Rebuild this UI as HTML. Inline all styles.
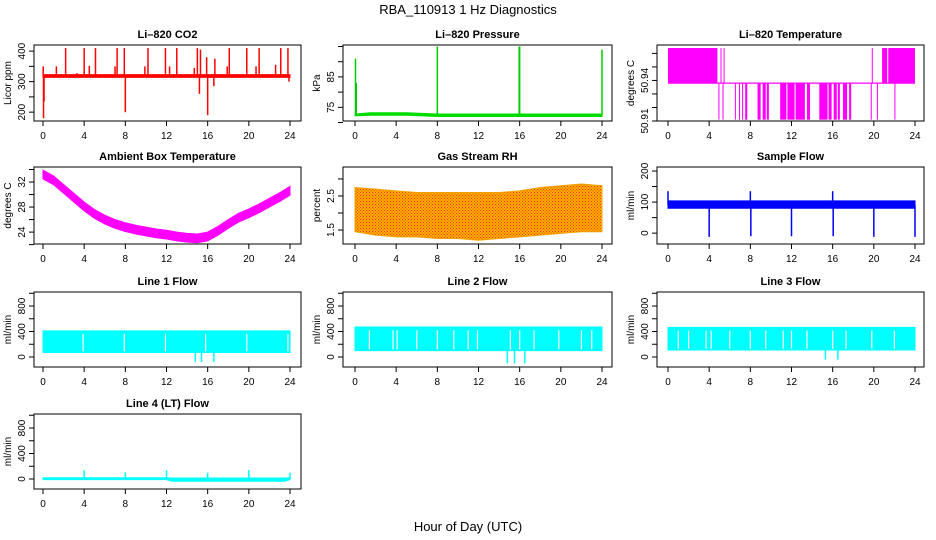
<!DOCTYPE html>
<html><head><meta charset="utf-8"><style>
html,body{margin:0;padding:0;background:#fff;}
svg{display:block;font-family:"Liberation Sans",sans-serif;}
</style></head><body>
<svg id="chart" width="936" height="540" viewBox="0 0 936 540">
<defs>
<pattern id="rhpat" width="3" height="3" patternUnits="userSpaceOnUse">
<rect width="3" height="3" fill="#f8b000"/><rect width="1" height="1" fill="#ff3000"/><rect x="1.5" y="1.5" width="1" height="1" fill="#ff3000"/>
</pattern>
</defs>
<text x="468" y="14" text-anchor="middle" font-size="13">RBA_110913  1 Hz Diagnostics</text>
<text x="468" y="531" text-anchor="middle" font-size="13">Hour of Day (UTC)</text>
</svg>
<script>
// ---- data ----
const xTicks = [0,4,8,12,16,20,24];
// CO2
const co2Band = [[0,314,323],[24,314,323]];
const co2Spikes = [[0.05,180],[0.1,235],[0.02,350],[1.3,350],[2.2,410],[3.3,328],[4.0,410],[4.5,352],[5.1,410],[7.0,350],[7.2,410],[7.9,410],[8.0,200],[9.9,350],[10.2,410],[11.9,410],[12.3,350],[13.0,410],[14.7,345],[15.0,410],[15.2,260],[15.3,405],[15.9,380],[16.0,190],[16.6,285],[16.7,375],[17.9,350],[18.1,410],[19.8,410],[20.7,350],[21.0,410],[22.6,355],[23.1,410],[23.8,410],[23.9,300]];
// Pressure
const presBand = [[0,72.2,72.8],[1.5,72.4,73.2],[5,72.4,73.2],[8,72.0,72.8],[24,72.0,72.8]];
const presSpikes = [[0.05,91],[0.12,83],[8.0,95],[16.0,95],[15.95,95],[24,94]];
// Li-820 temperature
const tempHighBlocks = [[0,4.8],[5.1,5.2],[5.4,5.45],[19.8,19.9],[20.8,21.3],[21.4,24]];
const tempLowBlocks = [[4.9,4.95],[5.3,5.35],[6.5,6.55],[6.9,7.0],[7.2,7.3],[7.5,7.7],[8.7,9.0],[9.2,9.5],[9.6,9.8],[10.9,11.5],[11.6,12.3],[12.4,13.3],[13.5,13.8],[14.7,15.5],[15.6,15.9],[16.1,16.4],[16.5,16.7],[17.0,17.4],[17.6,17.8],[19.7,19.8],[20.3,20.35],[22.0,22.05]];
const tempLevels = [50.911, 50.938, 50.964];
// Ambient box temperature (hourly centre)
const ambHours = [0,1,2,3,4,5,6,7,8,9,10,11,12,13,14,15,16,17,18,19,20,21,22,23,24];
const ambMean = [33.2,32.3,30.9,29.5,28.1,26.9,26.0,25.3,24.8,24.4,24.1,23.8,23.6,23.3,23.1,23.0,23.3,24.2,25.3,26.3,27.0,27.8,28.7,29.6,30.6];
// Gas stream RH envelope
const rhHours = [0,2,4,6,8,10,12,14,16,18,20,22,24];
const rhLow = [1.45,1.35,1.3,1.3,1.25,1.25,1.2,1.25,1.3,1.35,1.4,1.45,1.45];
const rhHigh = [2.75,2.7,2.65,2.6,2.6,2.6,2.6,2.6,2.65,2.75,2.8,2.85,2.8];
// Sample flow
const sfBand = [[0,80,104],[24,80,104]];
const sfSpikes = [[0,135],[4,-12],[8,135],[8.05,-10],[12,-10],[16,135],[16.05,-10],[20,-12],[24,-12]];
// Line flows: band [low, high]
const l1Band = [70,410]; const l1Gaps = [3.9,7.9,11.9,15.8,19.8,23.8]; const l1Dips = [[14.8,-80],[15.4,-80],[16.6,-80]];
const l2Band = [100,470]; const l2Gaps = [1.4,3.7,4.1,6.0,8.0,9.6,11.0,11.9,15.1,16.0,17.4,19.8,22.0,23.0]; const l2Dips = [[14.8,-100],[15.5,-100],[16.5,-100]];
const l3Band = [110,465]; const l3Gaps = [1.0,2.0,3.7,4.2,6.0,8.0,9.5,11.2,12.0,13.5,16.0,17.3,19.8,22.0]; const l3Dips = [[15.3,-40],[16.5,-40]];
const l4Base = [[0,-10,20],[12,-10,20],[12.5,-35,15],[23.5,-35,15],[24,-10,20]];
const l4Spikes = [[4,135],[8,105],[12,135],[16,100],[20,140],[24,100]];

// ---- layout ----
const svg = document.getElementById('chart');
const NS = 'http://www.w3.org/2000/svg';
const cols = [{l:34,r:301,x0:43,x1:290},{l:343,r:612,x0:355,x1:602},{l:657,r:924,x0:668,x1:915}];
const rows = [{t:45,b:121},{t:167,b:244},{t:292,b:367},{t:414,b:489}];
function el(tag, attrs, parent){const e=document.createElementNS(NS,tag);for(const k in attrs)e.setAttribute(k,attrs[k]);(parent||svg).appendChild(e);return e;}

function panel(name, title, ylab, c, r, ymin, ymax, yTickVals, yLabVals){
  const C=cols[c], R=rows[r];
  const g=el('g',{});
  
  
  const sx=h=>C.x0+(C.x1-C.x0)*h/24;
  const sy=v=>R.b-(R.b-R.t)*(v-ymin)/(ymax-ymin);
  const data=el('g',{},g);
  
  
  const box=el('rect',{x:C.l,y:R.t,width:C.r-C.l,height:R.b-R.t,fill:'none',stroke:'#000','stroke-width':1},g);
  
  
  const t=el('text',{x:(C.l+C.r)/2,y:R.t-7,'text-anchor':'middle','font-size':11,'font-weight':'bold'},g);
  t.textContent=title;
  
  
  const xa=el('g',{},g);
  
  
  xTicks.forEach(h=>{
    el('line',{x1:sx(h),x2:sx(h),y1:R.b,y2:R.b+5,stroke:'#000'},xa);
    const tx=el('text',{x:sx(h),y:R.b+18,'text-anchor':'middle','font-size':10},xa);
    tx.textContent=h;
  });
  const ya=el('g',{},g);
  
  
  yTickVals.forEach(v=>{
    el('line',{x1:C.l-5,x2:C.l,y1:sy(v),y2:sy(v),stroke:'#000'},ya);
  });
  yLabVals.forEach(v=>{
    const ty=el('text',{x:0,y:0,'text-anchor':'middle','font-size':10,transform:`translate(${C.l-9},${sy(v)}) rotate(-90)`},ya);
    ty.textContent=v;
  });
  const yt=el('text',{x:0,y:0,'text-anchor':'middle','font-size':10,transform:`translate(${C.l-23},${(R.t+R.b)/2}) rotate(-90)`},g);
  yt.textContent=ylab;
  
  
  return {sx,sy,data};
}
function band(p, arr, color, stroke){
  let pts=arr.map(a=>p.sx(a[0])+','+p.sy(a[2])).concat(arr.slice().reverse().map(a=>p.sx(a[0])+','+p.sy(a[1])));
  const b=el('polygon',{points:pts.join(' '),fill:color,stroke:stroke||color,'stroke-width':1},p.data);
  
  
}
function spikes(p, arr, base, color, w){
  arr.forEach(s=>{
    const l=el('line',{x1:p.sx(s[0]),x2:p.sx(s[0]),y1:p.sy(base),y2:p.sy(s[1]),stroke:color,'stroke-width':w||1.5},p.data);
    
    
  });
}

// CO2
let p=panel('co2-panel','Li\u2013820 CO2','Licor ppm',0,0,171,420,[200,250,300,350,400],[200,300,400]);
band(p,co2Band,'#ff0000'); spikes(p,co2Spikes,318,'#ff0000',1.5);
// Pressure
p=panel('pressure-panel','Li\u2013820 Pressure','kPa',1,0,70.5,95.5,[70,75,80,85,90,95],[75,85]);
band(p,presBand,'#00dd00'); spikes(p,presSpikes,72.5,'#00cc00',1.5);
// Li-820 temperature
p=panel('li820-temp-panel','Li\u2013820 Temperature','degrees C',2,0,50.91,50.9662,[50.91,50.92,50.93,50.94,50.95,50.96],[50.91,50.94]);
{const hl=el('line',{x1:p.sx(0),x2:p.sx(24),y1:p.sy(tempLevels[1]),y2:p.sy(tempLevels[1]),stroke:'#ff00ff','stroke-width':1.2},p.data);

}
tempHighBlocks.forEach(b=>{const r=el('rect',{x:p.sx(b[0]),y:p.sy(tempLevels[2]),width:Math.max(1,p.sx(b[1])-p.sx(b[0])),height:p.sy(tempLevels[1])-p.sy(tempLevels[2]),fill:'#ff00ff'},p.data);

});
tempLowBlocks.forEach(b=>{const r=el('rect',{x:p.sx(b[0]),y:p.sy(tempLevels[1]),width:Math.max(1,p.sx(b[1])-p.sx(b[0])),height:p.sy(tempLevels[0])-p.sy(tempLevels[1]),fill:'#ff00ff'},p.data);

});
// Ambient
p=panel('ambient-temp-panel','Ambient Box Temperature','degrees C',0,1,22.1,34.4,[22,24,26,28,30,32,34],[24,28,32]);
band(p,ambHours.map((h,i)=>[h,ambMean[i]-0.7,ambMean[i]+0.7]),'#ff00ff');
// RH
p=panel('rh-panel','Gas Stream RH','percent',1,1,1.09,3.35,[1.5,2.0,2.5,3.0],[1.5,2.5]);
band(p,rhHours.map((h,i)=>[h,rhLow[i],rhHigh[i]]),'url(#rhpat)','#f0a000');
// Sample flow
p=panel('sample-flow-panel','Sample Flow','ml/min',2,1,-35,213,[0,50,100,150,200],[0,100,200]);
band(p,sfBand,'#0000ff'); spikes(p,sfSpikes,90,'#0000ff',1.5);
// Line flows
function lineFlow(name,title,c,r,bnd,gaps,dips){
  const q=panel(name,title,'ml/min',c,r,-157,1020,[0,200,400,600,800,1000],[0,400,800]);
  band(q,[[0,bnd[0],bnd[1]],[24,bnd[0],bnd[1]]],'#00ffff');
  gaps.forEach(h=>{const g=el('line',{x1:q.sx(h),x2:q.sx(h),y1:q.sy(bnd[0]+20),y2:q.sy(bnd[1]-50),stroke:'#fff','stroke-width':1.2},q.data);
  
  });
  spikes(q,dips,bnd[0],'#00ffff',1.5);
  return q;
}
lineFlow('line1-flow-panel','Line 1 Flow',0,2,l1Band,l1Gaps,l1Dips);
lineFlow('line2-flow-panel','Line 2 Flow',1,2,l2Band,l2Gaps,l2Dips);
lineFlow('line3-flow-panel','Line 3 Flow',2,2,l3Band,l3Gaps,l3Dips);
p=panel('line4-flow-panel','Line 4 (LT) Flow','ml/min',0,3,-157,1020,[0,200,400,600,800,1000],[0,400,800]);
band(p,l4Base,'#00ffff'); spikes(p,l4Spikes,0,'#00ffff',1.5);
</script>
</body></html>
